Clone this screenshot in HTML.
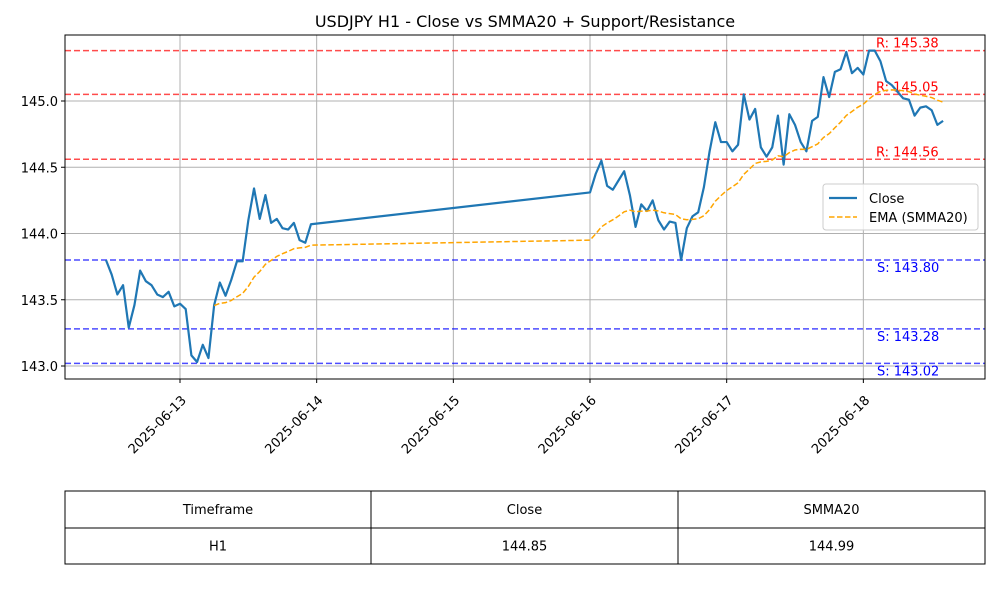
<!DOCTYPE html>
<html><head><meta charset="utf-8"><style>
body{margin:0;background:#fff;font-family:"Liberation Sans","DejaVu Sans",sans-serif}
svg text{font-family:"DejaVu Sans","Liberation Sans",sans-serif}
</style></head><body>
<svg id="c" width="1000" height="600" xmlns="http://www.w3.org/2000/svg"></svg>
<script>
const seg1Start = -13; // hours relative to 2025-06-13 00:00
const seg1Close = [143.80,143.69,143.54,143.61,143.29,143.46,143.72,143.64,143.61,143.54,143.52,143.56,143.45,143.47,143.43,143.08,143.03,143.16,143.06,143.46,143.63,143.53,143.65,143.79,143.79,144.10,144.34,144.11,144.29,144.08,144.11,144.04,144.03,144.08,143.95,143.93,144.07];
const seg2Start = 72;
const seg2Close = [144.31,144.45,144.55,144.36,144.33,144.40,144.47,144.29,144.05,144.22,144.17,144.25,144.10,144.03,144.09,144.08,143.80,144.04,144.13,144.16,144.35,144.62,144.84,144.69,144.69,144.62,144.67,145.05,144.86,144.94,144.65,144.58,144.65,144.89,144.52,144.90,144.82,144.69,144.62,144.85,144.88,145.18,145.03,145.22,145.24,145.37,145.21,145.25,145.20,145.38,145.38,145.30,145.15,145.12,145.07,145.02,145.01,144.89,144.95,144.96,144.93,144.82,144.85];
const resistance = [145.38,145.05,144.56];
const support = [143.80,143.28,143.02];
const yTicks = [143.0,143.5,144.0,144.5,145.0];
const xTickLabels = ["2025-06-13","2025-06-14","2025-06-15","2025-06-16","2025-06-17","2025-06-18"];
const tableHeaders = ["Timeframe","Close","SMMA20"];
const tableRow = ["H1","144.85","144.99"];

const NS="http://www.w3.org/2000/svg", svg=document.getElementById('c');
const L=65,R=985,T=35,B=379;
const X=h=>180+h*(136.67/24);
const Y=v=>101-(v-145)*132.5;
function el(t,a,p){const e=document.createElementNS(NS,t);for(const k in a)e.setAttribute(k,a[k]);(p||svg).appendChild(e);return e;}
function txt(s,a){const e=el('text',a);e.textContent=s;return e;}

const title=txt("USDJPY H1 - Close vs SMMA20 + Support/Resistance",{x:525,y:27,'text-anchor':'middle','font-size':16,fill:'#000'});



yTicks.forEach(v=>{const y=Y(v);
 const g=el('line',{x1:L,x2:R,y1:y,y2:y,stroke:'#b0b0b0','stroke-width':1});
 
 
 el('line',{x1:L-4,x2:L,y1:y,y2:y,stroke:'#000'});
 const t=txt(v.toFixed(1),{x:L-7,y:y+5,'text-anchor':'end','font-size':13});
 
 
});
xTickLabels.forEach((s,i)=>{const x=X(i*24);
 const g=el('line',{x1:x,x2:x,y1:T,y2:B,stroke:'#b0b0b0'});
 
 
 el('line',{x1:x,x2:x,y1:B,y2:B+4,stroke:'#000'});
 const ax=x+7, ay=B+22;
 const t=txt(s,{x:ax,y:ay,'text-anchor':'end','font-size':13,transform:`rotate(-45 ${ax} ${ay})`});
 
 
});

resistance.forEach(v=>{const y=Y(v);
 const l=el('line',{x1:L,x2:R,y1:y,y2:y,stroke:'#ff0000','stroke-opacity':0.7,'stroke-width':1.5,'stroke-dasharray':'6,3'});
 
 
 const t=txt('R: '+v.toFixed(2),{x:876,y:y-3,'font-size':13,fill:'#ff0000'});
 
 
});
support.forEach(v=>{const y=Y(v);
 const l=el('line',{x1:L,x2:R,y1:y,y2:y,stroke:'#0000ff','stroke-opacity':0.7,'stroke-width':1.5,'stroke-dasharray':'6,3'});
 
 
 const t=txt('S: '+v.toFixed(2),{x:877,y:y+12,'font-size':13,fill:'#0000ff'});
 
 
});

const pts=[];seg1Close.forEach((v,i)=>pts.push([seg1Start+i,v]));seg2Close.forEach((v,i)=>pts.push([seg2Start+i,v]));
const sm=[];let s=null;const a=2/21;
pts.forEach((p,i)=>{ if(i===19){s=pts.slice(0,20).reduce((acc,q)=>acc+q[1],0)/20;sm.push([p[0],s]);} else if(i>19){s=s+a*(p[1]-s);sm.push([p[0],s]);} });
const closePath=el('polyline',{points:pts.map(p=>X(p[0])+','+Y(p[1])).join(' '),fill:'none',stroke:'#1f77b4','stroke-width':2.2,'stroke-linejoin':'round'});


const smPath=el('polyline',{points:sm.map(p=>X(p[0])+','+Y(p[1])).join(' '),fill:'none',stroke:'#ffa500','stroke-width':1.5,'stroke-dasharray':'5.5,2.5'});



const fr=el('rect',{x:L,y:T,width:R-L,height:B-T,fill:'none',stroke:'#000','stroke-width':1});



const lg=el('g',{});


el('rect',{x:823,y:184,width:155,height:46,rx:3,fill:'#fff','fill-opacity':0.8,stroke:'#ccc'},lg);
el('line',{x1:829,x2:857,y1:198,y2:198,stroke:'#1f77b4','stroke-width':2.2},lg);
const e1=el('text',{x:869,y:203,'font-size':13},lg);e1.textContent='Close';


el('line',{x1:829,x2:857,y1:217,y2:217,stroke:'#ffa500','stroke-width':1.5,'stroke-dasharray':'5.5,2.5'},lg);
const e2=el('text',{x:869,y:222,'font-size':13},lg);e2.textContent='EMA (SMMA20)';



const tb=el('g',{});


const cols=[65,371,678,985],rows=[491,528,564];
[tableHeaders,tableRow].forEach((r,ri)=>r.forEach((c,ci)=>{
 el('rect',{x:cols[ci],y:rows[ri],width:cols[ci+1]-cols[ci],height:rows[ri+1]-rows[ri],fill:'#fff',stroke:'#000'},tb);
 const t=el('text',{x:(cols[ci]+cols[ci+1])/2,y:(rows[ri]+rows[ri+1])/2+4.5,'text-anchor':'middle','font-size':13},tb);
 t.textContent=c;
 
 
}));
</script>
</body></html>
